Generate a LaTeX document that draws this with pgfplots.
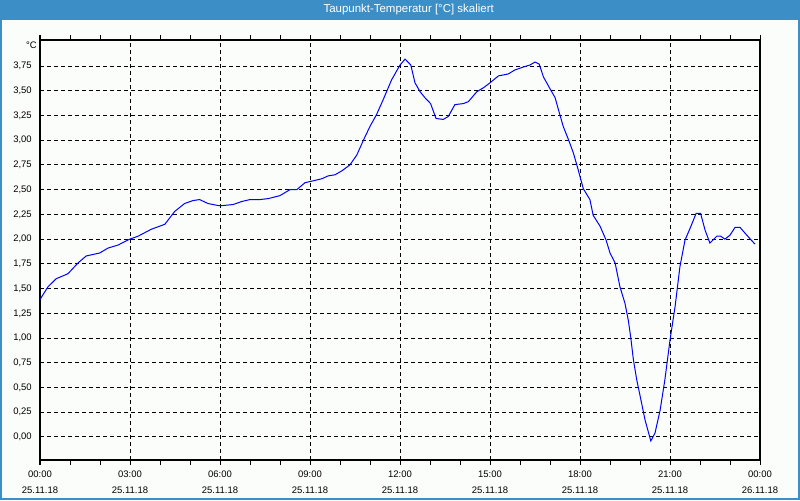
\documentclass[border=0pt]{standalone}
\usepackage{fontspec}
\setmainfont{Liberation Sans}
\usepackage{pgfplots}
\pgfplotsset{compat=1.18}
\definecolor{bgc}{RGB}{251,253,251}
\definecolor{barblue}{RGB}{60,143,198}
\definecolor{curveblue}{RGB}{0,0,255}
\begin{document}
\begin{tikzpicture}[x=1pt,y=1pt]
\path[use as bounding box] (0,0) rectangle (600,375);
\fill[bgc] (0,0) rectangle (600,375);
\fill[barblue] (0,360) rectangle (600,375);
\draw[barblue, line width=1.2pt] (0.6,0) -- (0.6,375) (599.4,0) -- (599.4,375) (0,0.6) -- (600,0.6);
\node[white, font=\fontsize{8.6pt}{10pt}\selectfont] at (306.5,367.6) {Taupunkt-Temperatur [°C] skaliert};
\begin{axis}[
  at={(30pt,30pt)}, anchor=south west,
  scale only axis, width=540pt, height=315pt,
  clip mode=individual,
  xmin=0, xmax=24, ymin=-0.2325, ymax=4.013,
  xtick={0,3,6,9,12,15,18,21,24},
  minor xtick={1,2,4,5,7,8,10,11,13,14,16,17,19,20,22,23},
  xticklabels={{00:00\\25.11.18},{03:00\\25.11.18},{06:00\\25.11.18},{09:00\\25.11.18},{12:00\\25.11.18},{15:00\\25.11.18},{18:00\\25.11.18},{21:00\\25.11.18},{00:00\\26.11.18}},
  ytick={0,0.25,...,3.8},
  grid=major,
  major grid style={black, line width=0.75pt, dash pattern=on 3pt off 2.25pt},
  tick align=outside,
  major tick length=3.75pt, minor tick length=3.75pt,
  xtick style={black, line width=0.75pt},
  minor tick style={black, line width=0.75pt},
  ytick style={draw=none},
  axis line style={black, line width=0.9pt},
  tick label style={font=\fontsize{7.1pt}{12pt}\selectfont, text=black},
  yticklabel style={anchor=east, inner sep=0pt, xshift=-2.25pt},
  xticklabel style={align=center, anchor=north, inner sep=0pt, yshift=-4.5pt},
  /pgf/number format/.cd, fixed, fixed zerofill, precision=2, use comma, assume math mode=true,
]
\addplot[curveblue, line width=0.75pt] coordinates {
(0.00,1.39) (0.27,1.52) (0.54,1.60) (0.93,1.65) (1.27,1.76) (1.54,1.83) (1.99,1.86)
(2.27,1.91) (2.60,1.94) (2.99,2.00) (3.27,2.03) (3.71,2.10) (4.16,2.15) (4.49,2.28)
(4.82,2.36) (5.10,2.39) (5.32,2.40) (5.60,2.36) (5.93,2.34) (6.11,2.34) (6.44,2.35)
(6.72,2.38) (7.00,2.40) (7.33,2.40) (7.61,2.41) (8.00,2.44) (8.33,2.50) (8.56,2.50)
(8.83,2.57) (9.11,2.59) (9.39,2.61) (9.61,2.64) (9.83,2.65) (10.06,2.69) (10.33,2.75)
(10.56,2.85) (10.78,3.00) (11.00,3.14) (11.22,3.26) (11.44,3.41) (11.72,3.61) (12.00,3.76)
(12.17,3.82) (12.36,3.76) (12.50,3.58) (12.67,3.49) (12.83,3.43) (13.02,3.37) (13.20,3.22)
(13.44,3.21) (13.61,3.24) (13.83,3.36) (14.11,3.37) (14.28,3.39) (14.56,3.49) (14.78,3.53)
(15.00,3.58) (15.28,3.65) (15.61,3.67) (15.83,3.71) (16.11,3.74) (16.33,3.76) (16.50,3.79)
(16.64,3.77) (16.78,3.64) (17.00,3.52) (17.17,3.43) (17.28,3.31) (17.44,3.14) (17.61,3.01)
(17.78,2.87) (17.94,2.70) (18.11,2.51) (18.33,2.40) (18.44,2.24) (18.67,2.13) (18.87,1.99)
(19.00,1.86) (19.17,1.76) (19.33,1.52) (19.50,1.35) (19.61,1.18) (19.69,1.01) (19.78,0.78)
(19.89,0.58) (20.00,0.42) (20.17,0.17) (20.36,-0.04) (20.50,0.04) (20.67,0.27) (20.83,0.58)
(21.00,0.98) (21.17,1.32) (21.33,1.72) (21.50,1.99) (21.67,2.11) (21.87,2.26) (22.02,2.26)
(22.17,2.09) (22.33,1.96) (22.56,2.03) (22.69,2.03) (22.83,2.00) (23.00,2.04) (23.17,2.12)
(23.33,2.12) (23.56,2.04) (23.83,1.95)
};
\node[anchor=east, inner sep=0pt, font=\fontsize{7.1pt}{12pt}\selectfont, xshift=-2.25pt, yshift=-3.75pt] at (rel axis cs:0,1) {°C};
\end{axis}
\end{tikzpicture}
\end{document}
